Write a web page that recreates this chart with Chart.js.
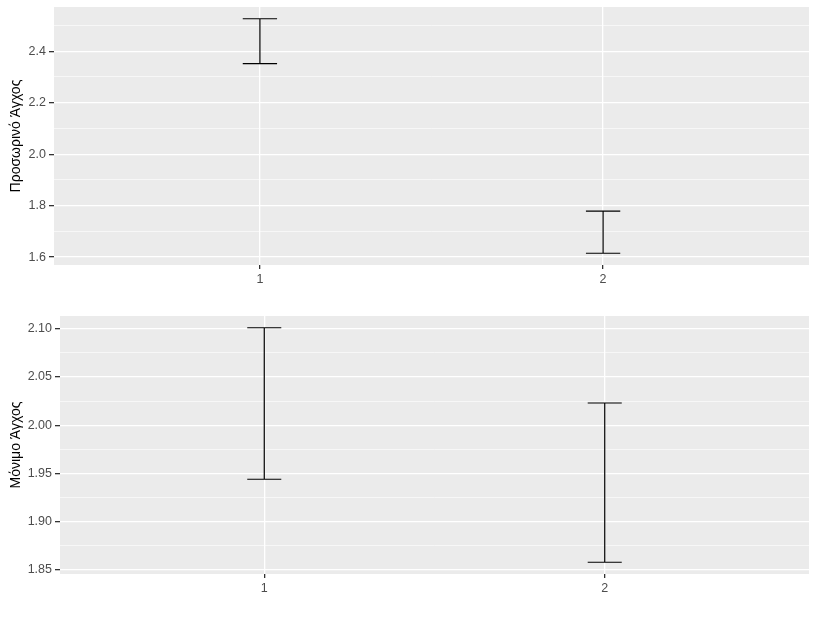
<!DOCTYPE html>
<html>
<head>
<meta charset="utf-8">
<script src="https://cdn.jsdelivr.net/npm/chart.js@4.4.1/dist/chart.umd.min.js"></script>
<style>
  html, body { margin: 0; padding: 0; background: #fff; }
  body { width: 818px; height: 618px; position: relative; overflow: hidden; }
  .box { position: absolute; left: 0; }
</style>
</head>
<body>
<div class="box" style="top:0"><canvas id="topChart" width="818" height="300"></canvas></div>
<div class="box" style="top:300px"><canvas id="bottomChart" width="818" height="318"></canvas></div>
<script>
// === DATA ===
const categories = [1, 2];
const xLabels = ["1", "2"];

// Προσωρινό Άγχος (top panel)
const tempLower = [2.352, 1.615];
const tempUpper = [2.526, 1.779];
const tempMajor = [1.6, 1.8, 2.0, 2.2, 2.4];
const tempLabels = ["1.6", "1.8", "2.0", "2.2", "2.4"];
const tempMinor = [1.7, 1.9, 2.1, 2.3, 2.5];

// Μόνιμο Άγχος (bottom panel)
const permLower = [1.944, 1.858];
const permUpper = [2.101, 2.023];
const permMajor = [1.85, 1.90, 1.95, 2.00, 2.05, 2.10];
const permLabels = ["1.85", "1.90", "1.95", "2.00", "2.05", "2.10"];
const permMinor = [1.875, 1.925, 1.975, 2.025, 2.075];

const capHalf = 0.05; // errorbar width 0.1 (x units)

Chart.defaults.font.family = "'Liberation Sans', Arial, sans-serif";

// === PLUGINS ===
const panelBg = {
  id: "panelBg",
  beforeDraw(chart) {
    const a = chart.chartArea, ctx = chart.ctx;
    ctx.save();
    ctx.fillStyle = "#EBEBEB";
    ctx.fillRect(a.left, a.top, a.right - a.left, a.bottom - a.top);
    ctx.restore();
  }
};

const errorBars = {
  id: "errorBars",
  afterDatasetsDraw(chart) {
    const ctx = chart.ctx, x = chart.scales.x, y = chart.scales.y;
    ctx.save();
    ctx.strokeStyle = "#000";
    ctx.lineWidth = 1.2;
    chart.data.datasets[0].data.forEach(d => {
      const px = x.getPixelForValue(d.x);
      const w = x.getPixelForValue(d.x + capHalf) - px;
      const top = y.getPixelForValue(d.hi);
      const bot = y.getPixelForValue(d.lo);
      ctx.beginPath();
      ctx.moveTo(px - w, top); ctx.lineTo(px + w, top);
      ctx.moveTo(px, top); ctx.lineTo(px, bot);
      ctx.moveTo(px - w, bot); ctx.lineTo(px + w, bot);
      ctx.stroke();
    });
    ctx.restore();
  }
};

function noPad(s) {
  s.paddingTop = 0; s.paddingBottom = 0; s.paddingLeft = 0; s.paddingRight = 0;
}

// === CHART ===
function makeChart(id, title, lower, upper, major, labels, minor, yWidth, xHeight, padTop) {
  const lo = Math.min(...lower), hi = Math.max(...upper);
  const exp = (hi - lo) * 0.05;
  const isMajor = v => major.some(m => Math.abs(m - v) < 1e-6);
  const yTicks = major.concat(minor).sort((a, b) => a - b);

  return new Chart(document.getElementById(id), {
    type: "scatter",
    data: {
      datasets: [{
        data: categories.map((c, i) => ({x: c, y: upper[i], lo: lower[i], hi: upper[i]})),
        pointRadius: 0,
        showLine: false
      }]
    },
    options: {
      responsive: false,
      animation: false,
      layout: {padding: {top: padTop, right: 9, bottom: 0, left: 0}},
      plugins: {legend: {display: false}, tooltip: {enabled: false}},
      scales: {
        x: {
          type: "linear",
          min: 0.4,
          max: 2.6,
          afterBuildTicks: s => { s.ticks = categories.map(v => ({value: v})); },
          afterFit: s => { s.height = xHeight; noPad(s); },
          ticks: {
            autoSkip: false,
            padding: 3,
            color: "#4D4D4D",
            font: {size: 12.5},
            maxRotation: 0,
            callback: v => xLabels[categories.indexOf(v)]
          },
          grid: {color: "#FFFFFF", lineWidth: 1.3, tickColor: "#333333", tickLength: 4},
          border: {display: false}
        },
        y: {
          type: "linear",
          min: lo - exp,
          max: hi + exp,
          afterBuildTicks: s => { s.ticks = yTicks.map(v => ({value: v})); },
          afterFit: s => { s.width = yWidth; noPad(s); },
          ticks: {
            autoSkip: false,
            padding: 3,
            color: "#4D4D4D",
            font: {size: 12.5},
            callback: v => {
              const i = major.findIndex(m => Math.abs(m - v) < 1e-6);
              return i >= 0 ? labels[i] : "";
            }
          },
          grid: {
            color: "#FFFFFF",
            lineWidth: c => isMajor(c.tick.value) ? 1.3 : 0.6,
            tickColor: c => isMajor(c.tick.value) ? "#333333" : "rgba(0,0,0,0)",
            tickLength: 5
          },
          border: {display: false},
          title: {display: true, text: title, color: "#000", font: {size: 14}, padding: {top: 8, bottom: 0}}
        }
      }
    },
    plugins: [panelBg, errorBars]
  });
}

makeChart("topChart", "Προσωρινό Άγχος", tempLower, tempUpper, tempMajor, tempLabels, tempMinor, 54, 35, 7);
makeChart("bottomChart", "Μόνιμο Άγχος", permLower, permUpper, permMajor, permLabels, permMinor, 60, 44, 16);
</script>
</body>
</html>
